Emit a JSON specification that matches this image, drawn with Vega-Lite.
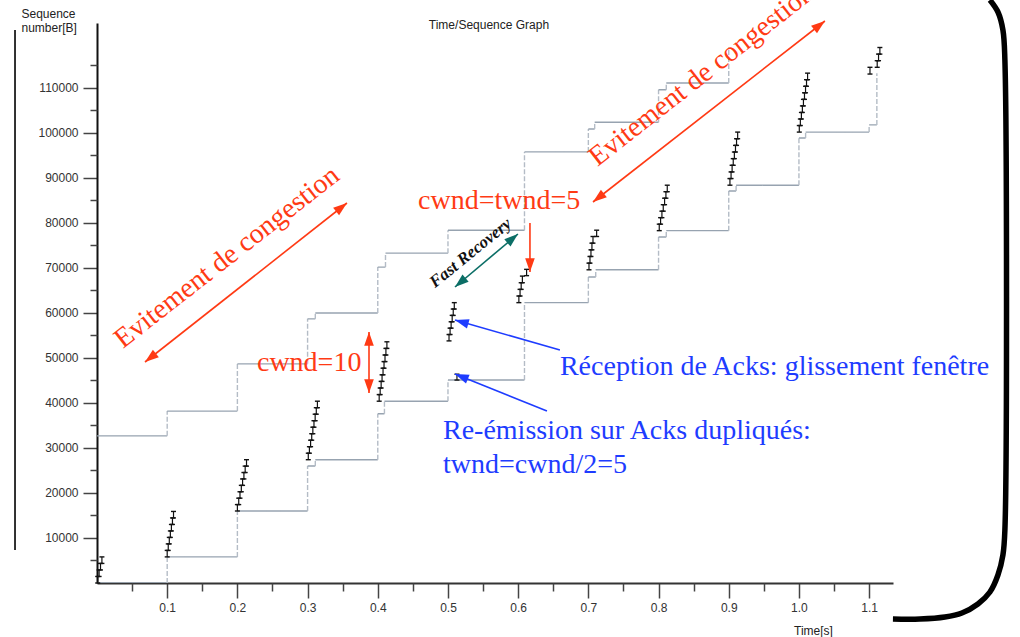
{
  "$schema": "https://vega.github.io/schema/vega-lite/v6.json",
  "width": 796,
  "height": 560,
  "autosize": "none",
  "padding": {"left": 97, "top": 23, "right": 127, "bottom": 54},
  "background": "white",
  "config": {"view": {"stroke": null}},
  "resolve": {"scale": {"color": "independent", "strokeDash": "independent"}, "axis": {"x": "independent", "y": "independent"}},
  "datasets": {
    "win": [
      {"line": "ack", "k": "h", "t": 0, "t2": 0.1, "s": 0, "s2": 0},
      {"line": "ack", "k": "v", "t": 0.1, "t2": 0.1, "s": 0, "s2": 5800},
      {"line": "ack", "k": "h", "t": 0.1, "t2": 0.2, "s": 5800, "s2": 5800},
      {"line": "ack", "k": "v", "t": 0.2, "t2": 0.2, "s": 5800, "s2": 16000},
      {"line": "ack", "k": "h", "t": 0.2, "t2": 0.3, "s": 16000, "s2": 16000},
      {"line": "ack", "k": "v", "t": 0.3, "t2": 0.3, "s": 16000, "s2": 26000},
      {"line": "ack", "k": "h", "t": 0.3, "t2": 0.311, "s": 26000, "s2": 26000},
      {"line": "ack", "k": "v", "t": 0.311, "t2": 0.311, "s": 26000, "s2": 27400},
      {"line": "ack", "k": "h", "t": 0.311, "t2": 0.4, "s": 27400, "s2": 27400},
      {"line": "ack", "k": "v", "t": 0.4, "t2": 0.4, "s": 27400, "s2": 37600},
      {"line": "ack", "k": "h", "t": 0.4, "t2": 0.4095, "s": 37600, "s2": 37600},
      {"line": "ack", "k": "v", "t": 0.4095, "t2": 0.4095, "s": 37600, "s2": 40400},
      {"line": "ack", "k": "h", "t": 0.4095, "t2": 0.5, "s": 40400, "s2": 40400},
      {"line": "ack", "k": "v", "t": 0.5, "t2": 0.5, "s": 40400, "s2": 45100},
      {"line": "ack", "k": "h", "t": 0.5, "t2": 0.609, "s": 45100, "s2": 45100},
      {"line": "ack", "k": "v", "t": 0.609, "t2": 0.609, "s": 45100, "s2": 62300},
      {"line": "ack", "k": "h", "t": 0.609, "t2": 0.7, "s": 62300, "s2": 62300},
      {"line": "ack", "k": "v", "t": 0.7, "t2": 0.7, "s": 62300, "s2": 68000},
      {"line": "ack", "k": "h", "t": 0.7, "t2": 0.7105, "s": 68000, "s2": 68000},
      {"line": "ack", "k": "v", "t": 0.7105, "t2": 0.7105, "s": 68000, "s2": 69600},
      {"line": "ack", "k": "h", "t": 0.7105, "t2": 0.8, "s": 69600, "s2": 69600},
      {"line": "ack", "k": "v", "t": 0.8, "t2": 0.8, "s": 69600, "s2": 76900},
      {"line": "ack", "k": "h", "t": 0.8, "t2": 0.811, "s": 76900, "s2": 76900},
      {"line": "ack", "k": "v", "t": 0.811, "t2": 0.811, "s": 76900, "s2": 78300},
      {"line": "ack", "k": "h", "t": 0.811, "t2": 0.9, "s": 78300, "s2": 78300},
      {"line": "ack", "k": "v", "t": 0.9, "t2": 0.9, "s": 78300, "s2": 87100},
      {"line": "ack", "k": "h", "t": 0.9, "t2": 0.9105, "s": 87100, "s2": 87100},
      {"line": "ack", "k": "v", "t": 0.9105, "t2": 0.9105, "s": 87100, "s2": 88400},
      {"line": "ack", "k": "h", "t": 0.9105, "t2": 1.0, "s": 88400, "s2": 88400},
      {"line": "ack", "k": "v", "t": 1.0, "t2": 1.0, "s": 88400, "s2": 98900},
      {"line": "ack", "k": "h", "t": 1.0, "t2": 1.0095, "s": 98900, "s2": 98900},
      {"line": "ack", "k": "v", "t": 1.0095, "t2": 1.0095, "s": 98900, "s2": 100200},
      {"line": "ack", "k": "h", "t": 1.0095, "t2": 1.1, "s": 100200, "s2": 100200},
      {"line": "ack", "k": "v", "t": 1.1, "t2": 1.1, "s": 100200, "s2": 101800},
      {"line": "ack", "k": "h", "t": 1.1, "t2": 1.111, "s": 101800, "s2": 101800},
      {"line": "ack", "k": "v", "t": 1.111, "t2": 1.111, "s": 101800, "s2": 113300},
      {"line": "win", "k": "h", "t": 0, "t2": 0.1, "s": 32700, "s2": 32700},
      {"line": "win", "k": "v", "t": 0.1, "t2": 0.1, "s": 32700, "s2": 38200},
      {"line": "win", "k": "h", "t": 0.1, "t2": 0.2, "s": 38200, "s2": 38200},
      {"line": "win", "k": "v", "t": 0.2, "t2": 0.2, "s": 38200, "s2": 48700},
      {"line": "win", "k": "h", "t": 0.2, "t2": 0.3, "s": 48700, "s2": 48700},
      {"line": "win", "k": "v", "t": 0.3, "t2": 0.3, "s": 48700, "s2": 58700},
      {"line": "win", "k": "h", "t": 0.3, "t2": 0.311, "s": 58700, "s2": 58700},
      {"line": "win", "k": "v", "t": 0.311, "t2": 0.311, "s": 58700, "s2": 60000},
      {"line": "win", "k": "h", "t": 0.311, "t2": 0.4, "s": 60000, "s2": 60000},
      {"line": "win", "k": "v", "t": 0.4, "t2": 0.4, "s": 60000, "s2": 70200},
      {"line": "win", "k": "h", "t": 0.4, "t2": 0.411, "s": 70200, "s2": 70200},
      {"line": "win", "k": "v", "t": 0.411, "t2": 0.411, "s": 70200, "s2": 73300},
      {"line": "win", "k": "h", "t": 0.411, "t2": 0.5, "s": 73300, "s2": 73300},
      {"line": "win", "k": "v", "t": 0.5, "t2": 0.5, "s": 73300, "s2": 78400},
      {"line": "win", "k": "h", "t": 0.5, "t2": 0.609, "s": 78400, "s2": 78400},
      {"line": "win", "k": "v", "t": 0.609, "t2": 0.609, "s": 78400, "s2": 95800},
      {"line": "win", "k": "h", "t": 0.609, "t2": 0.7, "s": 95800, "s2": 95800},
      {"line": "win", "k": "v", "t": 0.7, "t2": 0.7, "s": 95800, "s2": 100900},
      {"line": "win", "k": "h", "t": 0.7, "t2": 0.709, "s": 100900, "s2": 100900},
      {"line": "win", "k": "v", "t": 0.709, "t2": 0.709, "s": 100900, "s2": 102400},
      {"line": "win", "k": "h", "t": 0.709, "t2": 0.8, "s": 102400, "s2": 102400},
      {"line": "win", "k": "v", "t": 0.8, "t2": 0.8, "s": 102400, "s2": 109600},
      {"line": "win", "k": "h", "t": 0.8, "t2": 0.811, "s": 109600, "s2": 109600},
      {"line": "win", "k": "v", "t": 0.811, "t2": 0.811, "s": 109600, "s2": 111100},
      {"line": "win", "k": "h", "t": 0.811, "t2": 0.9, "s": 111100, "s2": 111100},
      {"line": "win", "k": "v", "t": 0.9, "t2": 0.9, "s": 111100, "s2": 119000}
    ],
    "segs": [
      {"t": 0.001, "s": 0, "s2": 1450}, {"t": 0.003, "s": 1450, "s2": 2900}, {"t": 0.005, "s": 2900, "s2": 4350}, {"t": 0.007, "s": 4350, "s2": 5800},
      {"t": 0.1, "s": 5800, "s2": 7240}, {"t": 0.1015, "s": 7240, "s2": 8690}, {"t": 0.103, "s": 8690, "s2": 10130}, {"t": 0.1045, "s": 10130, "s2": 11570}, {"t": 0.106, "s": 11570, "s2": 13010}, {"t": 0.1075, "s": 13010, "s2": 14460}, {"t": 0.109, "s": 14460, "s2": 15900},
      {"t": 0.2, "s": 16000, "s2": 17425}, {"t": 0.2019, "s": 17425, "s2": 18850}, {"t": 0.2037, "s": 18850, "s2": 20275}, {"t": 0.2056, "s": 20275, "s2": 21700}, {"t": 0.2074, "s": 21700, "s2": 23125}, {"t": 0.2093, "s": 23125, "s2": 24550}, {"t": 0.2111, "s": 24550, "s2": 25975}, {"t": 0.213, "s": 25975, "s2": 27400},
      {"t": 0.301, "s": 27400, "s2": 28844}, {"t": 0.3026, "s": 28844, "s2": 30289}, {"t": 0.3043, "s": 30289, "s2": 31733}, {"t": 0.3059, "s": 31733, "s2": 33178}, {"t": 0.3075, "s": 33178, "s2": 34622}, {"t": 0.3091, "s": 34622, "s2": 36067}, {"t": 0.3108, "s": 36067, "s2": 37511}, {"t": 0.3124, "s": 37511, "s2": 38956}, {"t": 0.314, "s": 38956, "s2": 40400},
      {"t": 0.402, "s": 40400, "s2": 41867}, {"t": 0.4034, "s": 41867, "s2": 43333}, {"t": 0.4048, "s": 43333, "s2": 44800}, {"t": 0.4061, "s": 44800, "s2": 46267}, {"t": 0.4075, "s": 46267, "s2": 47733}, {"t": 0.4089, "s": 47733, "s2": 49200}, {"t": 0.4103, "s": 49200, "s2": 50667}, {"t": 0.4116, "s": 50667, "s2": 52133}, {"t": 0.413, "s": 52133, "s2": 53600},
      {"t": 0.5015, "s": 53800, "s2": 55217}, {"t": 0.503, "s": 55217, "s2": 56633}, {"t": 0.5045, "s": 56633, "s2": 58050}, {"t": 0.506, "s": 58050, "s2": 59467}, {"t": 0.5075, "s": 59467, "s2": 60883}, {"t": 0.509, "s": 60883, "s2": 62300},
      {"t": 0.5128, "s": 45100, "s2": 46400},
      {"t": 0.601, "s": 62300, "s2": 63775}, {"t": 0.6027, "s": 63775, "s2": 65250}, {"t": 0.6043, "s": 65250, "s2": 66725}, {"t": 0.606, "s": 66725, "s2": 68200}, {"t": 0.612, "s": 68300, "s2": 69700},
      {"t": 0.7009, "s": 69600, "s2": 71080}, {"t": 0.7023, "s": 71080, "s2": 72560}, {"t": 0.7037, "s": 72560, "s2": 74040}, {"t": 0.7051, "s": 74040, "s2": 75520}, {"t": 0.7066, "s": 75520, "s2": 77000}, {"t": 0.7118, "s": 77000, "s2": 78400},
      {"t": 0.801, "s": 78300, "s2": 79743}, {"t": 0.8029, "s": 79743, "s2": 81186}, {"t": 0.8048, "s": 81186, "s2": 82629}, {"t": 0.8067, "s": 82629, "s2": 84071}, {"t": 0.8086, "s": 84071, "s2": 85514}, {"t": 0.8105, "s": 85514, "s2": 86957}, {"t": 0.8124, "s": 86957, "s2": 88400},
      {"t": 0.9017, "s": 88400, "s2": 89875}, {"t": 0.9033, "s": 89875, "s2": 91350}, {"t": 0.9048, "s": 91350, "s2": 92825}, {"t": 0.9064, "s": 92825, "s2": 94300}, {"t": 0.908, "s": 94300, "s2": 95775}, {"t": 0.9096, "s": 95775, "s2": 97250}, {"t": 0.9111, "s": 97250, "s2": 98725}, {"t": 0.9127, "s": 98725, "s2": 100200},
      {"t": 1.0005, "s": 100200, "s2": 101656}, {"t": 1.002, "s": 101656, "s2": 103111}, {"t": 1.0035, "s": 103111, "s2": 104567}, {"t": 1.0049, "s": 104567, "s2": 106022}, {"t": 1.0064, "s": 106022, "s2": 107478}, {"t": 1.0079, "s": 107478, "s2": 108933}, {"t": 1.0094, "s": 108933, "s2": 110389}, {"t": 1.0108, "s": 110389, "s2": 111844}, {"t": 1.0123, "s": 111844, "s2": 113300},
      {"t": 1.1012, "s": 113100, "s2": 114600},
      {"t": 1.1115, "s": 114600, "s2": 116067}, {"t": 1.1134, "s": 116067, "s2": 117533}, {"t": 1.1153, "s": 117533, "s2": 119000}
    ],
    "arrows": [
      {"g": "congestion", "t": 0.0684, "s": 49111, "t2": 0.3561, "s2": 84444},
      {"g": "congestion", "t": 0.7066, "s": 84667, "t2": 1.037, "s2": 124889},
      {"g": "congestion", "t": 0.3875, "s": 42222, "t2": 0.3875, "s2": 55778},
      {"g": "congestion", "t": 0.6168, "s": 80000, "t2": 0.6168, "s2": 69111},
      {"g": "recovery", "t": 0.51, "s": 65778, "t2": 0.5997, "s2": 77556},
      {"g": "ack", "t": 0.6595, "s": 51778, "t2": 0.51, "s2": 58444},
      {"g": "ack", "t": 0.641, "s": 38222, "t2": 0.51, "s2": 46444}
    ],
    "heads": [
      {"g": "congestion", "t": 0.3561, "s": 84444, "dir": 51.8},
      {"g": "congestion", "t": 0.0684, "s": 49111, "dir": 231.8},
      {"g": "congestion", "t": 1.037, "s": 124889, "dir": 52},
      {"g": "congestion", "t": 0.7066, "s": 84667, "dir": 232},
      {"g": "congestion", "t": 0.3875, "s": 55778, "dir": 0},
      {"g": "congestion", "t": 0.3875, "s": 42222, "dir": 180},
      {"g": "congestion", "t": 0.6168, "s": 69111, "dir": 180},
      {"g": "recovery", "t": 0.5997, "s": 77556, "dir": 49.9},
      {"g": "recovery", "t": 0.51, "s": 65778, "dir": 229.9},
      {"g": "ack", "t": 0.51, "s": 58444, "dir": 285.9},
      {"g": "ack", "t": 0.51, "s": 46444, "dir": 291.9}
    ],
    "frame": [
      {"i": 1, "t": 1.2721, "s": 129556},
      {"i": 2, "t": 1.2835, "s": 126889},
      {"i": 3, "t": 1.2906, "s": 122889},
      {"i": 4, "t": 1.2934, "s": 116222},
      {"i": 5, "t": 1.2934, "s": 11778},
      {"i": 6, "t": 1.2906, "s": 6222},
      {"i": 7, "t": 1.2835, "s": 1778},
      {"i": 8, "t": 1.2721, "s": -2000},
      {"i": 9, "t": 1.255, "s": -4667},
      {"i": 10, "t": 1.2322, "s": -6667},
      {"i": 11, "t": 1.208, "s": -7556},
      {"i": 12, "t": 1.1724, "s": -8000},
      {"i": 13, "t": 1.1339, "s": -8000}
    ]
  },
  "layer": [
    {
      "data": {"name": "win"},
      "mark": {"type": "rule", "clip": true, "strokeWidth": 1.4},
      "encoding": {
        "x": {"field": "t", "type": "quantitative", "scale": {"domain": [0, 1.134], "nice": false, "zero": false},
          "axis": {
            "orient": "bottom",
            "values": [0.1, 0.2, 0.3, 0.4, 0.5, 0.6, 0.7, 0.8, 0.9, 1.0, 1.1],
            "format": ".1f", "tickSize": 15,
            "grid": false, "domainColor": "#333", "domainWidth": 2, "tickColor": "#444", "tickWidth": 1.5,
            "labelFont": "Liberation Sans", "labelFontSize": 12, "labelColor": "#333", "labelPadding": 4, "labelFlush": false, "labelOverlap": false,
            "title": "Time[s]", "titleFont": "Liberation Sans", "titleFontSize": 12, "titleFontWeight": "normal", "titleColor": "#222",
            "titleX": 716, "titleY": 51, "titleAlign": "center", "titleBaseline": "alphabetic"
          }},
        "x2": {"field": "t2"},
        "y": {"field": "s", "type": "quantitative", "scale": {"domain": [0, 124444], "nice": false, "zero": false},
          "axis": {
            "orient": "left",
            "values": [10000, 20000, 30000, 40000, 50000, 60000, 70000, 80000, 90000, 100000, 110000],
            "format": "d", "tickSize": 14,
            "grid": false, "domainColor": "#111", "domainWidth": 2, "tickColor": "#444", "tickWidth": 1.5,
            "labelFont": "Liberation Sans", "labelFontSize": 12, "labelColor": "#333", "labelPadding": 5, "labelFlush": false, "labelOverlap": false,
            "title": ["Sequence", "number[B]"], "titleFont": "Liberation Sans", "titleFontSize": 12, "titleFontWeight": "normal", "titleColor": "#222",
            "titleAngle": 0, "titleX": -76, "titleY": -6, "titleAlign": "left", "titleBaseline": "alphabetic", "titleLineHeight": 14
          }},
        "y2": {"field": "s2"},
        "color": {"field": "k", "type": "nominal", "scale": {"domain": ["h", "v"], "range": ["#97a3b0", "#b4bcc6"]}, "legend": null},
        "strokeDash": {"field": "k", "type": "nominal", "scale": {"domain": ["h", "v"], "range": [[1, 0], [5, 2]]}, "legend": null}
      }
    },
    {
      "data": {"name": "segs"},
      "mark": {"type": "rule", "color": "#111", "strokeWidth": 1.2},
      "encoding": {
        "x": {"field": "t", "type": "quantitative", "scale": {"domain": [0, 1.134], "nice": false, "zero": false},
          "axis": {"orient": "bottom", "values": [0.05, 0.15, 0.25, 0.35, 0.45, 0.55, 0.65, 0.75, 0.85, 0.95, 1.05], "tickSize": 8, "tickColor": "#444", "tickWidth": 1.5, "labels": false, "domain": false, "grid": false, "title": null}},
        "y": {"field": "s", "type": "quantitative", "scale": {"domain": [0, 124444], "nice": false, "zero": false},
          "axis": {"orient": "left", "values": [5000, 15000, 25000, 35000, 45000, 55000, 65000, 75000, 85000, 95000, 105000, 115000], "tickSize": 7, "tickColor": "#444", "tickWidth": 1.5, "labels": false, "domain": false, "grid": false, "title": null}},
        "y2": {"field": "s2"}
      }
    },
    {
      "data": {"name": "segs"},
      "mark": {"type": "point", "shape": "stroke", "size": 25, "color": "#111", "strokeWidth": 1.4, "opacity": 1},
      "encoding": {
        "x": {"field": "t", "type": "quantitative", "scale": {"domain": [0, 1.134], "nice": false, "zero": false}, "axis": null},
        "y": {"field": "s", "type": "quantitative", "scale": {"domain": [0, 124444], "nice": false, "zero": false}, "axis": null}
      }
    },
    {
      "data": {"name": "segs"},
      "mark": {"type": "point", "shape": "stroke", "size": 25, "color": "#111", "strokeWidth": 1.4, "opacity": 1},
      "encoding": {
        "x": {"field": "t", "type": "quantitative", "scale": {"domain": [0, 1.134], "nice": false, "zero": false}, "axis": null},
        "y": {"field": "s2", "type": "quantitative", "scale": {"domain": [0, 124444], "nice": false, "zero": false}, "axis": null}
      }
    },
    {
      "data": {"values": [{"t": 0.5584, "s": 123111, "label": "Time/Sequence Graph"}]},
      "mark": {"type": "text", "font": "Liberation Sans", "fontSize": 12, "align": "center", "baseline": "alphabetic", "color": "#222"},
      "encoding": {
        "x": {"field": "t", "type": "quantitative", "scale": {"domain": [0, 1.134], "nice": false, "zero": false}, "axis": null},
        "y": {"field": "s", "type": "quantitative", "scale": {"domain": [0, 124444], "nice": false, "zero": false}, "axis": null},
        "text": {"field": "label"}
      }
    },
    {
      "data": {"name": "arrows"},
      "mark": {"type": "rule", "strokeWidth": 1.6},
      "encoding": {
        "x": {"field": "t", "type": "quantitative", "scale": {"domain": [0, 1.134], "nice": false, "zero": false}, "axis": null},
        "y": {"field": "s", "type": "quantitative", "scale": {"domain": [0, 124444], "nice": false, "zero": false}, "axis": null},
        "x2": {"field": "t2"},
        "y2": {"field": "s2"},
        "color": {"field": "g", "type": "nominal", "scale": {"domain": ["congestion", "ack", "recovery"], "range": ["#ff3a14", "#1e3cff", "#0b6e66"]}, "legend": null}
      }
    },
    {
      "data": {"name": "heads"},
      "mark": {"type": "point", "shape": "M0,0L-0.8,2.3L0.8,2.3Z", "size": 144, "filled": true, "opacity": 1},
      "encoding": {
        "x": {"field": "t", "type": "quantitative", "scale": {"domain": [0, 1.134], "nice": false, "zero": false}, "axis": null},
        "y": {"field": "s", "type": "quantitative", "scale": {"domain": [0, 124444], "nice": false, "zero": false}, "axis": null},
        "angle": {"field": "dir", "type": "quantitative", "scale": null},
        "color": {"field": "g", "type": "nominal", "scale": {"domain": ["congestion", "ack", "recovery"], "range": ["#ff3a14", "#1e3cff", "#0b6e66"]}, "legend": null}
      }
    },
    {
      "data": {"values": [
        {"t": 0.4573, "s": 83111, "label": "cwnd=twnd=5"},
        {"t": 0.2279, "s": 47111, "label": "cwnd=10"}
      ]},
      "mark": {"type": "text", "font": "Liberation Serif", "fontSize": 28, "align": "left", "baseline": "alphabetic", "color": "#ff3a14"},
      "encoding": {
        "x": {"field": "t", "type": "quantitative", "scale": {"domain": [0, 1.134], "nice": false, "zero": false}, "axis": null},
        "y": {"field": "s", "type": "quantitative", "scale": {"domain": [0, 124444], "nice": false, "zero": false}, "axis": null},
        "text": {"field": "label"}
      }
    },
    {
      "data": {"values": [
        {"t": 0.037, "s": 52000, "label": "Evitement de congestion"},
        {"t": 0.713, "s": 92444, "label": "Evitement de congestion"}
      ]},
      "mark": {"type": "text", "font": "Liberation Serif", "fontSize": 28, "align": "left", "baseline": "alphabetic", "angle": 322, "color": "#ff3a14"},
      "encoding": {
        "x": {"field": "t", "type": "quantitative", "scale": {"domain": [0, 1.134], "nice": false, "zero": false}, "axis": null},
        "y": {"field": "s", "type": "quantitative", "scale": {"domain": [0, 124444], "nice": false, "zero": false}, "axis": null},
        "text": {"field": "label"}
      }
    },
    {
      "data": {"values": [
        {"t": 0.6595, "s": 46222, "label": "Réception de Acks: glissement fenêtre"},
        {"t": 0.4929, "s": 32000, "label": "Re-émission sur Acks dupliqués:"},
        {"t": 0.4929, "s": 24444, "label": "twnd=cwnd/2=5"}
      ]},
      "mark": {"type": "text", "font": "Liberation Serif", "fontSize": 28, "align": "left", "baseline": "alphabetic", "color": "#1e3cff"},
      "encoding": {
        "x": {"field": "t", "type": "quantitative", "scale": {"domain": [0, 1.134], "nice": false, "zero": false}, "axis": null},
        "y": {"field": "s", "type": "quantitative", "scale": {"domain": [0, 124444], "nice": false, "zero": false}, "axis": null},
        "text": {"field": "label"}
      }
    },
    {
      "data": {"values": [
        {"t": 0.4815, "s": 65489, "label": "Fast Recovery"}
      ]},
      "mark": {"type": "text", "font": "Liberation Serif", "fontSize": 17, "fontWeight": "bold", "fontStyle": "italic", "align": "left", "baseline": "alphabetic", "angle": 321, "color": "#111"},
      "encoding": {
        "x": {"field": "t", "type": "quantitative", "scale": {"domain": [0, 1.134], "nice": false, "zero": false}, "axis": null},
        "y": {"field": "s", "type": "quantitative", "scale": {"domain": [0, 124444], "nice": false, "zero": false}, "axis": null},
        "text": {"field": "label"}
      }
    },
    {
      "data": {"name": "frame"},
      "mark": {"type": "line", "color": "#000", "strokeWidth": 5.5, "interpolate": "catmull-rom", "clip": false},
      "encoding": {
        "x": {"field": "t", "type": "quantitative", "scale": {"domain": [0, 1.134], "nice": false, "zero": false}, "axis": null},
        "y": {"field": "s", "type": "quantitative", "scale": {"domain": [0, 124444], "nice": false, "zero": false}, "axis": null},
        "order": {"field": "i", "type": "quantitative"}
      }
    },
    {
      "data": {"values": [{"t": -0.1168, "s": 7333, "s2": 122889}]},
      "mark": {"type": "rule", "color": "#000", "strokeWidth": 1.6},
      "encoding": {
        "x": {"field": "t", "type": "quantitative", "scale": {"domain": [0, 1.134], "nice": false, "zero": false}, "axis": null},
        "y": {"field": "s", "type": "quantitative", "scale": {"domain": [0, 124444], "nice": false, "zero": false}, "axis": null},
        "y2": {"field": "s2"}
      }
    }
  ]
}
